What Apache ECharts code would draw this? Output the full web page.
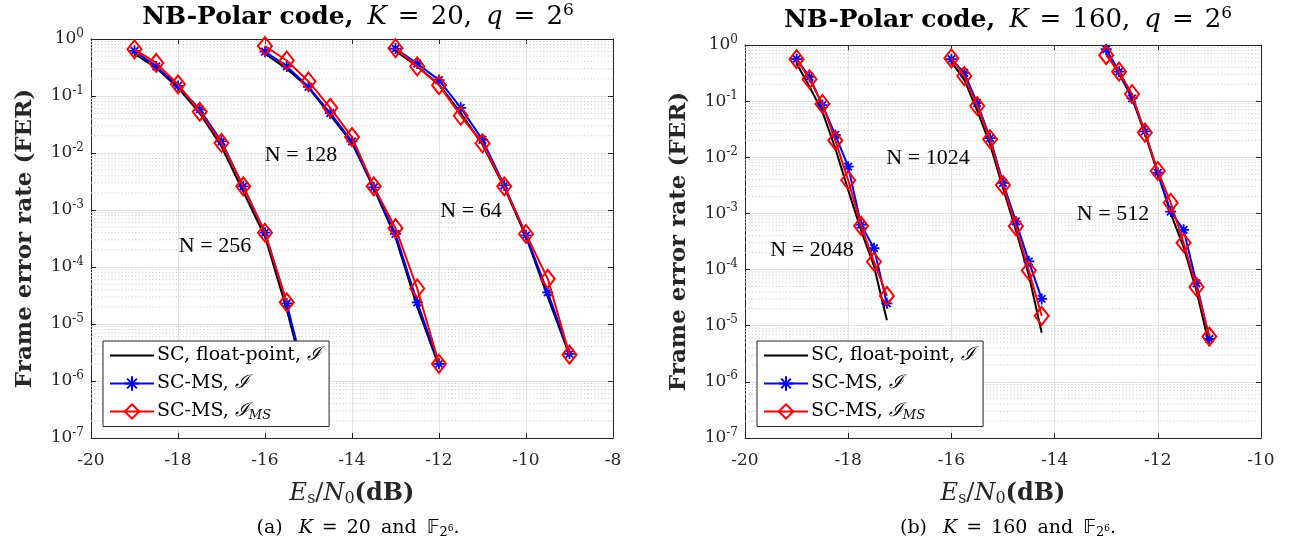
<!DOCTYPE html>
<html>
<head>
<meta charset="utf-8">
<script src="https://cdn.jsdelivr.net/npm/echarts@6/dist/echarts.min.js"></script>
<style>html,body{margin:0;padding:0;background:#fff}#c{width:1293px;height:554px}</style>
</head>
<body>
<div id="c"></div>
<script>
// ---- data: left panel (K = 20) ----
const xL256 = [-19, -18.5, -18, -17.5, -17, -16.5, -16, -15.5, -15];
const scL256 = [0.55, 0.31, 0.14, 0.05, 0.013, 0.0021, 3.4e-4, 1.8e-5, 6e-7];
const msL256 = [0.62, 0.33, 0.15, 0.058, 0.016, 0.0026, 4e-4, 2.3e-5, 7e-7];
const msmL256 = [0.66, 0.38, 0.16, 0.053, 0.015, 0.0026, 4e-4, 2.4e-5];

const xL128 = [-16, -15.5, -15, -14.5, -14, -13.5, -13, -12.5, -12];
const scL128 = [0.55, 0.3, 0.14, 0.046, 0.015, 0.0024, 3.3e-4, 2e-5, 1.8e-6];
const msL128 = [0.6, 0.33, 0.145, 0.05, 0.016, 0.0025, 3.8e-4, 2.4e-5, 2e-6];
const msmL128 = [0.75, 0.42, 0.18, 0.062, 0.019, 0.0026, 4.8e-4, 4.2e-5, 2e-6];

const xL64 = [-13, -12.5, -12, -11.5, -11, -10.5, -10, -9.5, -9];
const scL64 = [0.62, 0.33, 0.16, 0.05, 0.014, 0.0025, 3.4e-4, 3e-5, 2.8e-6];
const msL64 = [0.68, 0.37, 0.19, 0.062, 0.017, 0.0027, 3.6e-4, 3.6e-5, 3e-6];
const msmL64 = [0.69, 0.33, 0.155, 0.045, 0.0148, 0.0026, 3.8e-4, 6.2e-5, 2.9e-6];

// ---- data: right panel (K = 160) ----
const xR2048 = [-19, -18.75, -18.5, -18.25, -18, -17.75, -17.5, -17.25];
const scR2048 = [0.47, 0.18, 0.065, 0.0145, 0.0026, 5e-4, 1.15e-4, 1.25e-5];
const msR2048 = [0.56, 0.27, 0.085, 0.025, 0.0068, 6.3e-4, 2.4e-4, 2.5e-5];
const msmR2048 = [0.56, 0.245, 0.089, 0.02, 0.0039, 6e-4, 1.38e-4, 3.4e-5];

const xR1024 = [-16, -15.75, -15.5, -15.25, -15, -14.75, -14.5, -14.25];
const scR1024 = [0.5, 0.24, 0.068, 0.017, 0.0028, 5e-4, 8e-5, 7.5e-6];
const msR1024 = [0.56, 0.32, 0.092, 0.022, 0.0035, 7.2e-4, 1.4e-4, 3e-5];
const msmR1024 = [0.58, 0.28, 0.082, 0.021, 0.0032, 5.9e-4, 9.6e-5, 1.5e-5];

const xR512 = [-13, -12.75, -12.5, -12.25, -12, -11.75, -11.5, -11.25, -11];
const scR512 = [0.7, 0.31, 0.115, 0.026, 0.0052, 0.001, 2.5e-4, 4.2e-5, 4.3e-6];
const msR512 = [0.84, 0.335, 0.112, 0.029, 0.0053, 0.00108, 5.1e-4, 5.7e-5, 5.8e-6];
const msmR512 = [0.66, 0.335, 0.134, 0.0275, 0.0057, 0.00155, 3e-4, 4.9e-5, 6.4e-6];

const xTicksL = [-20, -8, 2];   // min, max, step
const xTicksR = [-20, -10, 2];
const yRange = [1e-7, 1];

// ---- styling ----
const SERIF = 'DejaVu Serif';
const AX = '#262626';
const LEGEND_TEXT = {
  sc: 'SC, float-point, {cal|ℐ}',
  ms: 'SC-MS, {cal|ℐ}',
  msm: 'SC-MS, {cal|ℐ}{sub|MS}'
};
const STAR = 'path://M5,0L5,10M0,5L10,5M1.6,1.6L8.4,8.4M8.4,1.6L1.6,8.4';

function zip(xs, ys) { return ys.map((y, i) => [xs[i], y]); }

function curve(kind, xs, ys, gi) {
  const base = {
    type: 'line', name: kind, xAxisIndex: gi * 2, yAxisIndex: gi * 2,
    data: zip(xs, ys), animation: false, clip: true
  };
  if (kind === 'sc') {
    return Object.assign(base, {
      z: 3, showSymbol: false, symbol: 'circle', symbolSize: 0,
      lineStyle: { color: '#000', width: 2 }, itemStyle: { color: '#000' }
    });
  }
  if (kind === 'ms') {
    return Object.assign(base, {
      z: 4, symbol: STAR, symbolSize: 11,
      lineStyle: { color: '#0000ff', width: 2 },
      itemStyle: { color: '#0000ff', borderColor: '#0000ff', borderWidth: 1.8 }
    });
  }
  return Object.assign(base, {
    z: 5, symbol: 'diamond', symbolSize: [14, 18],
    lineStyle: { color: '#ff0000', width: 2 },
    itemStyle: { color: 'rgba(255,255,255,0)', borderColor: '#ff0000', borderWidth: 2 }
  });
}

function minorGrid(gi, t) {
  const out = [];
  for (let e = -7; e < 0; e++) {
    for (let k = 2; k <= 9; k++) {
      const v = k * Math.pow(10, e);
      out.push({
        type: 'line', xAxisIndex: gi * 2, yAxisIndex: gi * 2, z: 1, silent: true,
        symbol: 'none', animation: false,
        data: [[t[0], v], [t[1], v]],
        lineStyle: { color: '#cdcdcd', type: [1.2, 2.2], width: 1 }
      });
    }
  }
  return out;
}

const rich = {
  b: { fontFamily: SERIF, fontSize: 17, color: AX },
  s: { fontFamily: SERIF, fontSize: 12, color: AX, padding: [0, 0, 11, 0] }
};

function xAxes(t, gi) {
  return [{
    type: 'value', gridIndex: gi, min: t[0], max: t[1], interval: t[2], position: 'bottom',
    axisLine: { show: true, lineStyle: { color: AX, width: 1 } },
    axisTick: { show: true, inside: true, length: 5, lineStyle: { color: AX } },
    axisLabel: { fontFamily: SERIF, fontSize: 17, color: AX, margin: 14 },
    splitLine: { show: true, lineStyle: { color: '#e3e3e3', width: 1 } },
    name: '{i|E}{sub|s}{r|/}{i|N}{sub|0}{bd|(dB)}', nameLocation: 'middle', nameGap: 42,
    nameTextStyle: {
      rich: {
        i: { fontFamily: SERIF, fontStyle: 'italic', fontSize: 24, color: AX },
        r: { fontFamily: SERIF, fontSize: 24, color: AX },
        sub: { fontFamily: SERIF, fontSize: 16, color: AX, padding: [11, 0, 0, 0] },
        bd: { fontFamily: SERIF, fontWeight: 'bold', fontSize: 24, color: AX }
      }
    }
  }, {
    type: 'value', gridIndex: gi, min: t[0], max: t[1], interval: t[2], position: 'top',
    axisLine: { show: true, lineStyle: { color: AX, width: 1 } },
    axisTick: { show: true, inside: true, length: 5, lineStyle: { color: AX } },
    axisLabel: { show: false }, splitLine: { show: false }
  }];
}

function yAxes(gi) {
  return [{
    type: 'log', logBase: 10, gridIndex: gi, min: yRange[0], max: yRange[1], splitNumber: 7,
    position: 'left',
    axisLine: { show: true, lineStyle: { color: AX, width: 1 } },
    axisTick: { show: true, inside: true, length: 5, lineStyle: { color: AX } },
    axisLabel: {
      margin: 7, formatter: v => '{b|10}{s|' + Math.round(Math.log10(v)) + '}', rich: rich
    },
    splitLine: { show: true, lineStyle: { color: '#e3e3e3', width: 1 } },
    name: 'Frame error rate (FER)', nameLocation: 'middle', nameGap: 54,
    nameTextStyle: { fontFamily: SERIF, fontWeight: 'bold', fontSize: 23, color: AX }
  }, {
    type: 'log', logBase: 10, gridIndex: gi, min: yRange[0], max: yRange[1], splitNumber: 7,
    position: 'right',
    axisLine: { show: true, lineStyle: { color: AX, width: 1 } },
    axisTick: { show: true, inside: true, length: 5, lineStyle: { color: AX } },
    axisLabel: { show: false }, splitLine: { show: false }
  }];
}

const TF = 25;
const titleRich = {
  b: { fontFamily: SERIF, fontWeight: 'bold', fontSize: TF, color: '#000' },
  i: { fontFamily: SERIF, fontStyle: 'italic', fontWeight: 'normal', fontSize: 26, color: '#000', padding: [0, 0, 0, 14] },
  eq: { fontFamily: SERIF, fontWeight: 'normal', fontSize: 26, color: '#000', padding: [0, 11, 0, 11] },
  r: { fontFamily: SERIF, fontWeight: 'normal', fontSize: 26, color: '#000' },
  sup: { fontFamily: SERIF, fontWeight: 'normal', fontSize: 17, color: '#000', padding: [0, 0, 14, 0] }
};
const CF = 19;
const capRich = {
  r: { fontFamily: SERIF, fontWeight: 'normal', fontSize: CF, color: '#000' },
  i: { fontFamily: SERIF, fontStyle: 'italic', fontWeight: 'normal', fontSize: CF, color: '#000', padding: [0, 0, 0, 16] },
  eq: { fontFamily: SERIF, fontWeight: 'normal', fontSize: CF, color: '#000', padding: [0, 9, 0, 9] },
  and: { fontFamily: SERIF, fontWeight: 'normal', fontSize: CF, color: '#000', padding: [0, 10, 0, 10] },
  bb: { fontFamily: 'DejaVu Sans', fontWeight: 'normal', fontSize: CF, color: '#000' },
  sub: { fontFamily: SERIF, fontWeight: 'normal', fontSize: 13, color: '#000', padding: [9, 0, 0, 0] },
  ss: { fontFamily: SERIF, fontWeight: 'normal', fontSize: 9, color: '#000', padding: [2, 0, 0, 0] }
};

function legend(left, top) {
  return {
    left: left, top: top, orient: 'vertical',
    data: [{ name: 'sc', itemStyle: { opacity: 0 } }, { name: 'ms' }, { name: 'msm' }],
    backgroundColor: '#fff', borderColor: AX, borderWidth: 1, borderRadius: 0,
    padding: [5, 8, 4, 6], itemWidth: 44, itemHeight: 18, itemGap: 9, z: 20,
    selectedMode: false,
    formatter: n => LEGEND_TEXT[n],
    textStyle: {
      fontFamily: SERIF, fontSize: 19, color: '#000', padding: [0, 0, 0, -2],
      rich: {
        cal: { fontFamily: 'DejaVu Serif', fontStyle: 'italic', fontSize: 19, color: '#000' },
        sub: { fontFamily: SERIF, fontStyle: 'italic', fontSize: 13, color: '#000', padding: [9, 0, 0, 0] }
      }
    }
  };
}

const labelFont = '22px "Liberation Serif"';
function nLabel(text, x, y) {
  return { type: 'text', z: 10, style: { text: text, x: x, y: y, font: labelFont, fill: '#000', align: 'center', verticalAlign: 'middle', textAlign: 'center', textVerticalAlign: 'middle' } };
}

const series = [].concat(minorGrid(0, xTicksL), minorGrid(1, xTicksR));
[[xL256, scL256, msL256, msmL256], [xL128, scL128, msL128, msmL128], [xL64, scL64, msL64, msmL64]]
  .forEach(g => { series.push(curve('sc', g[0], g[1], 0), curve('ms', g[0], g[2], 0), curve('msm', g[0], g[3], 0)); });
[[xR2048, scR2048, msR2048, msmR2048], [xR1024, scR1024, msR1024, msmR1024], [xR512, scR512, msR512, msmR512]]
  .forEach(g => { series.push(curve('sc', g[0], g[1], 1), curve('ms', g[0], g[2], 1), curve('msm', g[0], g[3], 1)); });

const chart = echarts.init(document.getElementById('c'), null, { renderer: 'canvas' });
chart.setOption({
  animation: false,
  backgroundColor: '#fff',
  title: [
    { text: '{b|NB-Polar code,}{i|K}{eq|=}{r|20,}{i|q}{eq|=}{r|2}{sup|6}', left: 353, top: -3, textAlign: 'center', textStyle: { rich: titleRich } },
    { text: '{b|NB-Polar code,}{i|K}{eq|=}{r|160,}{i|q}{eq|=}{r|2}{sup|6}', left: 1003, top: 0, textAlign: 'center', textStyle: { rich: titleRich } },
    { text: '{r|(a)}{i|K}{eq|=}{r|20}{and|and}{bb|𝔽}{sub|2}{ss|6}{r|.}', left: 353, top: 512, textAlign: 'center', textStyle: { rich: capRich } },
    { text: '{r|(b)}{i|K}{eq|=}{r|160}{and|and}{bb|𝔽}{sub|2}{ss|6}{r|.}', left: 1003, top: 512, textAlign: 'center', textStyle: { rich: capRich } }
  ],
  grid: [
    { left: 91, top: 39, width: 522, height: 399 },
    { left: 745, top: 45, width: 516, height: 393 }
  ],
  xAxis: [].concat(xAxes(xTicksL, 0), xAxes(xTicksR, 1)),
  yAxis: [].concat(yAxes(0), yAxes(1)),
  legend: [legend(103, 341), legend(757, 341)],
  graphic: [
    nLabel('N = 256', 215, 246), nLabel('N = 128', 301, 155), nLabel('N = 64', 471, 211),
    nLabel('N = 2048', 812, 250), nLabel('N = 1024', 928, 158), nLabel('N = 512', 1113, 214)
  ],
  series: series
});
</script>
</body>
</html>
